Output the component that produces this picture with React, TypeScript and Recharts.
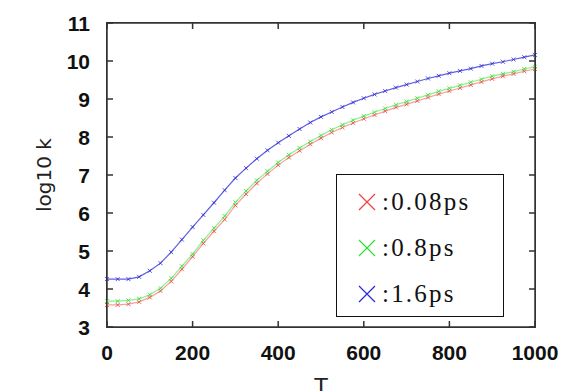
import { LineChart, Line, XAxis, YAxis } from "recharts";

// temperature grid
const temps = [
  0, 25, 50, 75, 100, 125, 150, 175, 200, 225, 250, 275, 300, 325, 350, 375,
  400, 425, 450, 475, 500, 525, 550, 575, 600, 625, 650, 675, 700, 725, 750,
  775, 800, 825, 850, 875, 900, 925, 950, 975, 1000,
];

// log10 k
const k008 = [
  3.58, 3.58, 3.6, 3.66, 3.78, 3.95, 4.2, 4.52, 4.85, 5.2, 5.52, 5.83, 6.2,
  6.5, 6.78, 7.03, 7.26, 7.46, 7.64, 7.81, 7.97, 8.12, 8.25, 8.37, 8.48, 8.58,
  8.68, 8.78, 8.86, 8.95, 9.04, 9.13, 9.21, 9.29, 9.37, 9.45, 9.53, 9.6, 9.66,
  9.73, 9.79,
];
const k08 = [
  3.68, 3.68, 3.7, 3.74, 3.85, 4.02, 4.28, 4.6, 4.92, 5.28, 5.6, 5.92, 6.28,
  6.58, 6.86, 7.1, 7.33, 7.53, 7.71, 7.88, 8.04, 8.19, 8.32, 8.44, 8.55, 8.65,
  8.75, 8.85, 8.93, 9.02, 9.11, 9.2, 9.28, 9.36, 9.44, 9.52, 9.6, 9.66, 9.72,
  9.79, 9.85,
];
const k16 = [
  4.26, 4.26, 4.26, 4.32, 4.48, 4.68, 4.97, 5.3, 5.63, 5.95, 6.27, 6.6,
  6.92, 7.18, 7.43, 7.65, 7.85, 8.03, 8.21, 8.38, 8.53, 8.66, 8.79, 8.91, 9.02,
  9.12, 9.21, 9.3, 9.38, 9.46, 9.54, 9.61, 9.68, 9.74, 9.8, 9.87, 9.93, 9.98,
  10.04, 10.1, 10.16,
];

const xTicks = [0, 200, 400, 600, 800, 1000];
const yTicks = [3, 4, 5, 6, 7, 8, 9, 10, 11];

const seriesList = [
  { key: "r", name: ":0.08ps", color: "#f04040", opacity: 0.5, xId: "b", yId: "l" },
  { key: "g", name: ":0.8ps", color: "#30e030", opacity: 0.55, xId: "t", yId: "r" },
  { key: "b", name: ":1.6ps", color: "#2a2ad8", opacity: 0.75, xId: "b", yId: "l" },
];

const data = temps.map((t, i) => ({
  T: t,
  r: k008[i],
  g: k08[i],
  b: k16[i],
}));

const frameColor = "#333";
const frame = { stroke: frameColor, strokeWidth: 1.5 };
const TS = 6; // tick length (drawn inward)
const fontProps = {
  fill: "#111",
  fontSize: 21,
  fontWeight: 600,
  fontFamily: "Liberation Sans Narrow, Liberation Sans, sans-serif",
};

// gnuplot-like ticks: marks point into the plot, labels outside
// marks are small filled rects so they do not depend on stroke styling
function makeTick(side: "bottom" | "top" | "left" | "right", margin: number) {
  return (p: any) => {
    const { x, y, payload } = p;
    if (side === "bottom") {
      const ay = y - TS - margin;
      return (
        <g>
          <rect x={x - 0.75} y={ay - TS} width={1.5} height={TS} fill={frameColor} />
          <text x={x} y={y} dy="0.71em" textAnchor="middle" {...fontProps}>
            {payload.value}
          </text>
        </g>
      );
    }
    if (side === "left") {
      const ax = x + TS + margin;
      return (
        <g>
          <rect x={ax} y={y - 0.75} width={TS} height={1.5} fill={frameColor} />
          <text x={x} y={y} dy="0.36em" textAnchor="end" {...fontProps}>
            {payload.value}
          </text>
        </g>
      );
    }
    if (side === "top") {
      const ay = y + TS + margin;
      return <rect x={x - 0.75} y={ay} width={1.5} height={TS} fill={frameColor} />;
    }
    const ax = x - TS - margin;
    return <rect x={ax - TS} y={y - 0.75} width={TS} height={1.5} fill={frameColor} />;
  };
}

function Cross(props: any) {
  const { cx, cy, stroke } = props;
  if (cx == null || cy == null) return null;
  const s = 2;
  return (
    <path
      d={`M${cx - s},${cy - s}L${cx + s},${cy + s}M${cx - s},${cy + s}L${cx + s},${cy - s}`}
      stroke={stroke}
      strokeWidth={1}
      strokeOpacity={0.8}
      fill="none"
    />
  );
}

function LegendBox() {
  return (
    <div
      style={{
        position: "absolute",
        left: 336,
        top: 174,
        width: 166,
        height: 137,
        border: "1.5px solid #111",
        background: "#fff",
        paddingTop: 4,
        boxSizing: "content-box",
      }}
    >
      {seriesList.map((s) => (
        <div
          key={s.key}
          style={{ display: "flex", alignItems: "center", height: 46, paddingLeft: 21 }}
        >
          <svg width={18} height={18} style={{ marginRight: 6 }}>
            <path d="M1,1L17,17M1,17L17,1" stroke={s.color} strokeWidth={1.2} />
          </svg>
          <span
            style={{
              fontFamily: "Liberation Serif, serif",
              fontSize: 25,
              letterSpacing: 2.2,
              color: "#111",
            }}
          >
            {s.name}
          </span>
        </div>
      ))}
    </div>
  );
}

export default function App() {
  return (
    <div style={{ position: "absolute", left: 0, top: 0, width: 566, height: 391, background: "#fff" }}>
      <LineChart
        width={566}
        height={391}
        data={data}
        margin={{ top: 13, right: 21, bottom: 0, left: 47 }}
      >
        <XAxis
          xAxisId="b"
          dataKey="T"
          type="number"
          domain={[0, 1000]}
          ticks={xTicks}
          interval={0}
          tickSize={TS}
          tickMargin={12}
          axisLine={frame}
          tickLine={false}
          tick={makeTick("bottom", 12)}
          height={64}
          label={{
            content: ({ viewBox }: any) => (
              <text
                x={viewBox.x + viewBox.width / 2}
                y={viewBox.y + 50}
                textAnchor="middle"
                dominantBaseline="hanging"
                fill="#222"
                fontSize={24}
                fontFamily="Liberation Sans, sans-serif"
              >
                T
              </text>
            ),
          }}
        />
        <XAxis
          xAxisId="t"
          orientation="top"
          dataKey="T"
          type="number"
          domain={[0, 1000]}
          ticks={xTicks}
          interval={0}
          tickSize={TS}
          tickMargin={0}
          axisLine={frame}
          tickLine={false}
          tick={makeTick("top", 0)}
          height={10}
        />
        <YAxis
          yAxisId="l"
          type="number"
          domain={[3, 11]}
          ticks={yTicks}
          interval={0}
          tickSize={TS}
          tickMargin={11}
          axisLine={frame}
          tickLine={false}
          tick={makeTick("left", 11)}
          width={60}
          label={{
            content: ({ viewBox }: any) => {
              const x = viewBox.x - 2;
              const y = viewBox.y + viewBox.height / 2;
              return (
                <text
                  x={x}
                  y={y}
                  transform={`rotate(-90 ${x} ${y})`}
                  textAnchor="middle"
                  dominantBaseline="middle"
                  fill="#222"
                  fontSize={20}
                  fontFamily="DejaVu Sans, sans-serif"
                >
                  log10 k
                </text>
              );
            },
          }}
        />
        <YAxis
          yAxisId="r"
          orientation="right"
          type="number"
          domain={[3, 11]}
          ticks={yTicks}
          interval={0}
          tickSize={TS}
          tickMargin={0}
          axisLine={frame}
          tickLine={false}
          tick={makeTick("right", 0)}
          width={10}
        />
        {seriesList.map((s) => (
          <Line
            key={s.key}
            xAxisId={s.xId}
            yAxisId={s.yId}
            dataKey={s.key}
            name={s.name}
            stroke={s.color}
            strokeOpacity={s.opacity}
            strokeWidth={1.2}
            dot={(p: any) => <Cross key={p.index} {...p} stroke={s.color} />}
            isAnimationActive={false}
          />
        ))}
      </LineChart>
      {/* plot frame, same box as the chart's plot area */}
      <div
        style={{
          position: "absolute",
          left: 106,
          top: 22,
          width: 428,
          height: 304,
          border: `1.5px solid ${frameColor}`,
          pointerEvents: "none",
        }}
      />
      <LegendBox />
    </div>
  );
}
